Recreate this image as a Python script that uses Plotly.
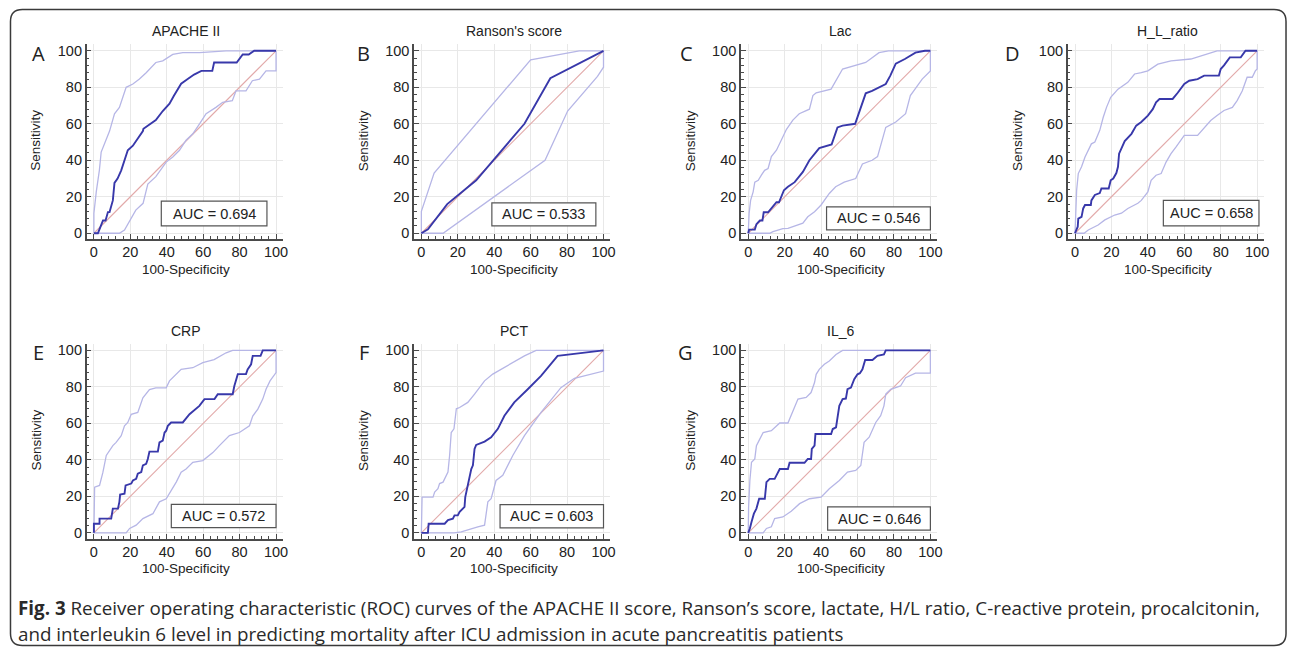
import plotly.graph_objects as go

# ---- data (ROC curve + 95% CI band limits) ----
PANEL_TITLES = ["APACHE II", "Ranson's score", "Lac", "H_L_ratio", "CRP", "PCT", "IL_6"]
PANEL_LETTERS = ["A", "B", "C", "D", "E", "F", "G"]
AUC_VALUES = [0.694, 0.533, 0.546, 0.658, 0.572, 0.603, 0.646]

APACHE_X = [0, 2.2, 3, 4, 5, 6.4, 6.8, 7.7, 8.6, 9.5, 10.4, 11.3, 13, 15, 16.8, 18.6, 21.4, 24, 26.9, 27.2,
            29.6, 34, 37.8, 41.5, 44, 47.9, 51.5, 55, 59, 65, 66, 72.5, 78.4, 81.7, 85, 88, 100]
APACHE_Y = [0, 0, 2, 4.5, 7, 7, 9, 11.6, 11.6, 14.5, 18, 27.6, 30, 34.5, 40, 45.5, 48, 52, 56, 57.3,
            59, 62, 67, 71, 75.5, 82, 84.5, 87, 89, 89, 93.6, 93.6, 93.6, 98, 98, 100, 100]
APACHE_UP_X = [0, 0, 1.3, 2.2, 3, 4, 5.3, 8.6, 11.3, 14, 17.7, 21.4, 25, 28.7, 34, 37.8, 43.3, 48.8, 58, 67, 72.6, 100]
APACHE_UP_Y = [0, 11, 22.7, 28, 34.5, 44.5, 48, 56, 65.5, 69, 80, 81.8, 84.5, 88, 93.6, 94.5, 98, 99, 99, 99.6, 100, 100]
APACHE_LO_X = [0, 8.6, 14, 16.8, 20.5, 23, 27, 29.6, 34, 39.7, 43.3, 47, 50.6, 54.3, 58, 61.6, 67, 70.7, 76, 78,
               83.5, 87, 90.9, 94.5, 100, 100]
APACHE_LO_Y = [0, 0, 0, 1.8, 8, 12.7, 16.4, 27, 31, 39, 41.8, 45.5, 51, 54.5, 60, 65.5, 69, 71.8, 72.7, 78,
               78, 83.6, 84.5, 89, 89, 100]

RANSON_X = [0, 3.6, 14.2, 30.1, 56.6, 70.8, 100]
RANSON_Y = [0, 2.2, 16, 29, 60, 85, 100]
RANSON_UP_X = [0, 0, 7, 60, 86.7, 100]
RANSON_UP_Y = [0, 12, 33, 95, 100, 100]
RANSON_LO_X = [0, 11.9, 67.9, 80.3, 96.7, 100, 100]
RANSON_LO_Y = [0, 0, 40, 67, 86, 91, 100]

LAC_X = [0, 0.5, 3.6, 4.5, 6.4, 7.8, 8.5, 10.9, 12.7, 15.5, 16.9, 19.6, 21.8, 25.5, 30, 33.6, 39, 41, 45.8,
         49, 51.8, 58.7, 61, 64.5, 68, 71.8, 75.5, 78, 81, 86, 91.8, 97, 100]
LAC_Y = [0, 2, 2, 5, 7, 7, 11.5, 11.5, 13.6, 17, 17, 23.6, 25.5, 28, 33.6, 40, 46.7, 47.3, 48.7,
         58, 59, 60, 67, 76.7, 78, 80, 81.8, 86.4, 93, 95.5, 99, 100, 100]
LAC_UP_X = [0, 0.5, 1.3, 2.7, 3.6, 5.5, 7.3, 9, 10.9, 12.7, 15.5, 18, 21, 24.5, 28, 33.6, 35.5, 37.3, 45.5,
            51.8, 55.5, 64.5, 71.8, 77, 100]
LAC_UP_Y = [0, 11, 18, 22.7, 28, 29, 32, 34.5, 35.5, 42, 45.5, 51, 57, 62, 65.5, 68, 75.5, 77, 79,
            90, 91, 93.6, 99, 100, 100]
LAC_LO_X = [0, 11.8, 13.6, 16.4, 19, 21.8, 26.4, 30, 32.7, 36.4, 40, 44.5, 48, 52.7, 59, 62.7, 68, 71,
            75.5, 81, 86.4, 89, 95.5, 100, 100]
LAC_LO_Y = [0, 0, 0.9, 1.8, 2.5, 2.7, 4.5, 5.5, 9, 11.8, 15.5, 21.8, 25.5, 28, 30, 38, 40, 42,
            58, 61, 65.5, 75.5, 84.5, 89, 100]

HL_X = [0, 1.5, 1.8, 3.6, 4.5, 5.5, 8.7, 9, 10.9, 13.6, 14.5, 18.5, 19.6, 21, 22.7, 23.6, 24.2, 25.5, 27.3,
        31, 33.6, 36.4, 40, 42.7, 44.5, 46.4, 53.6, 56.4, 60, 62.7, 67.3, 70.9, 79, 80, 81.8, 85, 91, 93.6, 100]
HL_Y = [0, 3.6, 8, 9, 13.6, 15.5, 15.5, 18, 21, 22, 24.5, 24.5, 29, 30, 33, 36.4, 43.6, 46.4, 50.5,
        54.5, 59, 61, 64.5, 68, 71.8, 73.6, 73.6, 77, 81.8, 83.6, 84.5, 86.4, 86.4, 90, 92, 96.4, 96.4, 100, 100]
HL_UP_X = [0, 0.3, 0.9, 1.8, 3.6, 5.5, 9, 10.9, 13.6, 15.5, 17.3, 19.6, 23.6, 29, 32.7, 36.4, 40, 45.5,
           52.7, 63.6, 70.9, 78, 100]
HL_UP_Y = [0, 10, 23.6, 32.7, 36.4, 41.8, 49, 50, 56.4, 63.6, 69, 74.5, 79, 82.7, 87.3, 88, 89, 92.7,
           94.5, 95.5, 98, 100, 100]
HL_LO_X = [0, 5, 7.3, 12.7, 16.4, 21.8, 25.5, 29, 34.5, 36.4, 40, 41.8, 44.5, 47.3, 50, 52.7, 55.5, 60,
           67.3, 70.9, 74.5, 78, 81.8, 86.4, 89, 91.8, 94.5, 97.3, 99, 100, 100]
HL_LO_Y = [0, 0, 1.8, 4.5, 7.3, 10, 11, 13.6, 16.4, 18, 22.7, 29, 31.8, 32.7, 39, 43.6, 47.3, 53.6,
           53.6, 58, 61.8, 64.5, 67.3, 69, 72.7, 78, 85.5, 85.5, 89, 90, 100]

CRP_X = [0, 0, 3.1, 3.1, 9.5, 10.4, 13.2, 14, 14.4, 16.8, 17.4, 20.5, 21.4, 23.2, 24.1, 26, 26.9, 28.7,
         29.6, 30.5, 35.1, 36, 37.8, 38.8, 39.7, 40.6, 42.4, 48.8, 52.5, 56.1, 57.9, 60.7, 66.2, 68, 76.2,
         77.1, 79, 83.5, 84.4, 86.3, 87.2, 91.5, 92.7, 100]
CRP_Y = [0, 5, 5, 7.8, 7.8, 13.3, 13.3, 17, 21, 21.5, 26, 27, 28.7, 29.6, 32.4, 33.3, 37, 37.8,
         40.5, 44.5, 44.5, 49.6, 50.5, 55, 56, 58.7, 60.5, 60.5, 65, 67.8, 69.6, 73.3, 73.3, 76, 76,
         80.5, 87, 87, 89.6, 92.4, 97, 97, 100, 100]
CRP_UP_X = [0, 0, 0.4, 3.1, 4.9, 6.8, 10.4, 12.2, 15, 16.8, 18.6, 20.5, 24.1, 26.9, 30.5, 34, 39.7, 41.5,
            44.2, 47.9, 54.3, 59.8, 66, 72.6, 76.2, 100]
CRP_UP_Y = [0, 12, 25, 26, 33, 42.4, 47.8, 49.6, 53.3, 58.7, 60.5, 65, 66, 74, 78.5, 79.5, 79.5, 83.3,
            86, 89.6, 90.5, 93.3, 95, 98.7, 100, 100]
CRP_LO_X = [0, 17.7, 19.6, 23.2, 26.9, 32.4, 36, 39.7, 45.2, 47.9, 50.6, 54.3, 59.8, 65.3, 68.9, 74.4,
            79.9, 85.4, 87.2, 90, 92.7, 94.5, 96.7, 100, 100]
CRP_LO_Y = [0, 0, 2.4, 4.2, 7.8, 10.5, 17, 18.7, 27.8, 33.3, 35, 38.7, 39.6, 44, 47.8, 53.3,
            55, 58.7, 64, 67.8, 73.3, 78.7, 83.3, 87.8, 100]

PCT_X = [0, 3.6, 4, 12.8, 14.6, 17.3, 18.2, 20, 21, 22.8, 23.7, 24.1, 25.5, 26.5, 27.4, 28.3, 29.2, 30.1,
         34.7, 38.3, 42, 45.6, 51, 58.4, 65.7, 74.8, 100]
PCT_Y = [0, 0, 5, 5, 7, 7.8, 9.6, 9.6, 11.5, 13.3, 14.2, 19.6, 26, 29.6, 35, 37, 46, 48.2,
         50, 52.4, 57, 64.2, 71.5, 78.7, 86, 97, 100]
PCT_UP_X = [0, 0, 0.4, 6.4, 7.3, 9.1, 10, 11.9, 12.8, 14.6, 15.5, 16.4, 17.9, 19.2, 21, 25.5, 29.2, 34.7,
            39.2, 47.4, 56.6, 63, 100]
PCT_UP_Y = [0, 12, 19.6, 19.6, 22.4, 24.2, 27, 27.8, 29.6, 33.3, 42.4, 55, 57, 68, 68.7, 71.5, 76, 83.3,
            87, 91.5, 97, 100, 100]
PCT_LO_X = [0, 18, 21.9, 27.4, 31, 34.7, 35.6, 36.5, 38.3, 41, 44.7, 50.2, 56.6, 65.7, 76.6, 84, 100, 100]
PCT_LO_Y = [0, 0, 0.5, 2.4, 3.3, 4.2, 9.6, 17, 18.7, 28.7, 31.5, 42.4, 53.3, 66, 79.6, 84.7, 88.7, 100]

IL6_X = [0, 0.9, 1.8, 3.1, 4.5, 6, 9.1, 10, 11.8, 14.5, 15.5, 17.3, 21.8, 22.7, 30.9, 32.7, 34.5, 34.9,
         36.4, 36.9, 45.5, 46.4, 48.2, 49.1, 50, 51.8, 53.6, 54.5, 56.4, 58.2, 60, 61.3, 62.7, 64.2, 68.2,
         70.9, 74.5, 75.5, 100]
IL6_Y = [0, 2.4, 6, 10.5, 13.3, 18.7, 18.7, 27.8, 29.6, 29.6, 31.5, 35, 35, 38.4, 38.4, 40.5, 40.5, 46,
         47.8, 54.2, 54.2, 56.9, 57.8, 64.2, 69.6, 73.3, 73.6, 78.7, 79.6, 84.2, 86.9, 87.5, 89.6, 94.7, 94.7,
         97, 97.8, 100, 100]
IL6_UP_X = [0, 0.2, 0.9, 1.8, 3.6, 4.5, 6.4, 8.2, 12.7, 17.3, 21.8, 24.5, 27.3, 31.8, 34.5, 36.4, 37.3, 39,
            41.8, 44.5, 48.2, 51.8, 100]
IL6_UP_Y = [0, 14, 28.7, 38.7, 40.5, 47.8, 51.5, 55, 56, 60.2, 60.2, 67, 73.3, 74.2, 76.9, 82.4, 86.9, 89.6,
            92.4, 94.2, 97.8, 100, 100]
IL6_LO_X = [0, 8.2, 10, 12.7, 14.5, 19, 23.6, 28.2, 33.6, 40, 44.5, 50, 54.5, 59, 61.8, 63.6, 66.4, 70,
            72.7, 74.5, 75.5, 78.2, 83.6, 86.4, 91.8, 100, 100]
IL6_LO_Y = [0, 0, 2.4, 3.3, 7.8, 8.7, 11.8, 16, 18.7, 19.6, 24.2, 28.7, 33.3, 34.2, 36.9, 49.6, 52.4, 60.5,
            64.2, 69.6, 76, 78.7, 80.5, 85, 87.5, 87.5, 100]

ROC_CURVES = [
    (APACHE_X, APACHE_Y, APACHE_UP_X, APACHE_UP_Y, APACHE_LO_X, APACHE_LO_Y),
    (RANSON_X, RANSON_Y, RANSON_UP_X, RANSON_UP_Y, RANSON_LO_X, RANSON_LO_Y),
    (LAC_X, LAC_Y, LAC_UP_X, LAC_UP_Y, LAC_LO_X, LAC_LO_Y),
    (HL_X, HL_Y, HL_UP_X, HL_UP_Y, HL_LO_X, HL_LO_Y),
    (CRP_X, CRP_Y, CRP_UP_X, CRP_UP_Y, CRP_LO_X, CRP_LO_Y),
    (PCT_X, PCT_Y, PCT_UP_X, PCT_UP_Y, PCT_LO_X, PCT_LO_Y),
    (IL6_X, IL6_Y, IL6_UP_X, IL6_UP_Y, IL6_LO_X, IL6_LO_Y),
]

# ---- layout constants (pixels in the 1295x651 page) ----
PAGE_W, PAGE_H = 1295, 651
BODY_MARGIN = 8  # the html page offsets the plot div by the default body margin
W, H = PAGE_W - BODY_MARGIN, PAGE_H - BODY_MARGIN
SX, SY = 1.83, 1.833
# pixel position of the data point (0, 0) in each panel
ORIGINS = [(94.3, 233.3), (423.3, 233.3), (751.7, 233.3), (1080, 233.3),
           (94.3, 534.3), (423.3, 534.3), (751.7, 534.3)]
LETTER_DX = [-56, -58, -62, -63, -56, -58, -63]
# AUC box corners in data units (x0, y0, x1, y1)
AUC_BOXES = [(37, 4, 95, 17.6), (38.7, 4, 95.8, 16.7), (43, 1.8, 100, 14.5), (48.5, 4, 101, 18),
             (42.5, 2.9, 100, 15.6), (43.2, 2.7, 100, 15.5), (43.6, 1.5, 100, 14.2)]

X_RANGE = [-4, 103.6]
Y_RANGE = [-3.1, 103.6]

MAIN_COLOR = "#3838aa"
CI_COLOR = "#b6b6e6"
DIAG_COLOR = "#e2a9a9"
GRID_COLOR = "#e8e8e8"
AXIS_COLOR = "#4a4a4a"
TEXT_COLOR = "#222222"
FONT = "Liberation Sans, Arial, sans-serif"


def fx(px):
    return (px - BODY_MARGIN) / W


def fy(py):
    return 1 - (py - BODY_MARGIN) / H


fig = go.Figure()
annotations = []
shapes = []

for i, (roc_x, roc_y, up_x, up_y, lo_x, lo_y) in enumerate(ROC_CURVES):
    n = i + 1
    xa = "x" if n == 1 else f"x{n}"
    ya = "y" if n == 1 else f"y{n}"
    ox, oy = ORIGINS[i]

    fig.add_trace(go.Scatter(x=[0, 100], y=[0, 100], mode="lines", xaxis=xa, yaxis=ya,
                             line=dict(color=DIAG_COLOR, width=1.1), showlegend=False, hoverinfo="skip"))
    fig.add_trace(go.Scatter(x=up_x, y=up_y, mode="lines", xaxis=xa, yaxis=ya,
                             line=dict(color=CI_COLOR, width=1.3), showlegend=False))
    fig.add_trace(go.Scatter(x=lo_x, y=lo_y, mode="lines", xaxis=xa, yaxis=ya,
                             line=dict(color=CI_COLOR, width=1.3), showlegend=False))
    fig.add_trace(go.Scatter(x=roc_x, y=roc_y, mode="lines", xaxis=xa, yaxis=ya,
                             line=dict(color=MAIN_COLOR, width=1.9), showlegend=False))

    axis_common = dict(
        showline=True, linecolor=AXIS_COLOR, linewidth=1.5,
        showgrid=True, gridcolor=GRID_COLOR, gridwidth=1, zeroline=False,
        ticks="inside", ticklen=5, tickwidth=1, tickcolor=AXIS_COLOR,
        tick0=0, dtick=20,
        minor=dict(ticks="inside", ticklen=3, tickwidth=1, tickcolor=AXIS_COLOR, dtick=4, showgrid=False),
        tickfont=dict(family=FONT, size=14.5, color=TEXT_COLOR),
        fixedrange=True,
    )
    x_key = "xaxis" if n == 1 else f"xaxis{n}"
    y_key = "yaxis" if n == 1 else f"yaxis{n}"
    fig.update_layout({
        x_key: dict(axis_common, range=X_RANGE, anchor=ya, ticklabelstandoff=-1,
                    domain=[fx(ox + X_RANGE[0] * SX), fx(ox + X_RANGE[1] * SX)]),
        y_key: dict(axis_common, range=Y_RANGE, anchor=xa,
                    domain=[fy(oy - Y_RANGE[0] * SY), fy(oy - Y_RANGE[1] * SY)]),
    })

    # panel title, axis titles and letter
    annotations.append(dict(text=PANEL_TITLES[i], x=fx(ox + 93), y=fy(oy - 203), xref="paper", yref="paper",
                            showarrow=False, xanchor="center", yanchor="middle",
                            font=dict(family=FONT, size=14, color=TEXT_COLOR)))
    annotations.append(dict(text="100-Specificity", x=fx(ox + 93), y=fy(oy + 36), xref="paper", yref="paper",
                            showarrow=False, xanchor="center", yanchor="middle",
                            font=dict(family=FONT, size=13.5, color=TEXT_COLOR)))
    annotations.append(dict(text="Sensitivity", x=fx(ox - 58), y=fy(oy - 93), xref="paper", yref="paper",
                            showarrow=False, xanchor="center", yanchor="middle", textangle=-90,
                            font=dict(family=FONT, size=13.5, color=TEXT_COLOR)))
    annotations.append(dict(text=PANEL_LETTERS[i], x=fx(ox + LETTER_DX[i]), y=fy(oy - 181), xref="paper",
                            yref="paper", showarrow=False, xanchor="center", yanchor="middle",
                            font=dict(family="Open Sans, sans-serif", size=20, color=TEXT_COLOR)))

    # AUC box
    bx0, by0, bx1, by1 = AUC_BOXES[i]
    shapes.append(dict(type="rect", xref=xa, yref=ya, x0=bx0, y0=by0, x1=bx1, y1=by1,
                       line=dict(color="#555555", width=1.2), fillcolor="white", layer="above"))
    annotations.append(dict(text=f"AUC = {AUC_VALUES[i]:.3f}", x=(bx0 + bx1) / 2, y=(by0 + by1) / 2,
                            xref=xa, yref=ya, showarrow=False, xanchor="center", yanchor="middle",
                            font=dict(family=FONT, size=14.5, color=TEXT_COLOR)))

# rounded outer frame
l, t, r, b, rad = 10.5, 8.5, 1292, 647.5, 12
rx, ry = rad / W, rad / H
L, R, T, B = fx(l), fx(r), fy(t), fy(b)
frame_path = (f"M {L + rx},{T} L {R - rx},{T} Q {R},{T} {R},{T - ry} L {R},{B + ry} Q {R},{B} {R - rx},{B} "
              f"L {L + rx},{B} Q {L},{B} {L},{B + ry} L {L},{T - ry} Q {L},{T} {L + rx},{T} Z")
shapes.append(dict(type="path", xref="paper", yref="paper", path=frame_path,
                   line=dict(color="#3a3a3a", width=1.5)))

# caption
CAPTION_1 = ("<b>Fig. 3</b> Receiver operating characteristic (ROC) curves of the APACHE II score, "
             "Ranson’s score, lactate, H/L ratio, C-reactive protein, procalcitonin,")
CAPTION_2 = "and interleukin 6 level in predicting mortality after ICU admission in acute pancreatitis patients"
for text, py in [(CAPTION_1, 610), (CAPTION_2, 636)]:
    annotations.append(dict(text=text, x=fx(16), y=fy(py), xref="paper", yref="paper", showarrow=False,
                            xanchor="left", yanchor="middle",
                            font=dict(family="Open Sans, sans-serif", size=18.8, color="#2a2a2a")))

fig.update_layout(
    width=W, height=H,
    margin=dict(l=0, r=0, t=0, b=0),
    paper_bgcolor="white", plot_bgcolor="white",
    annotations=annotations, shapes=shapes,
    showlegend=False,
)

fig.write_html("out.html")
